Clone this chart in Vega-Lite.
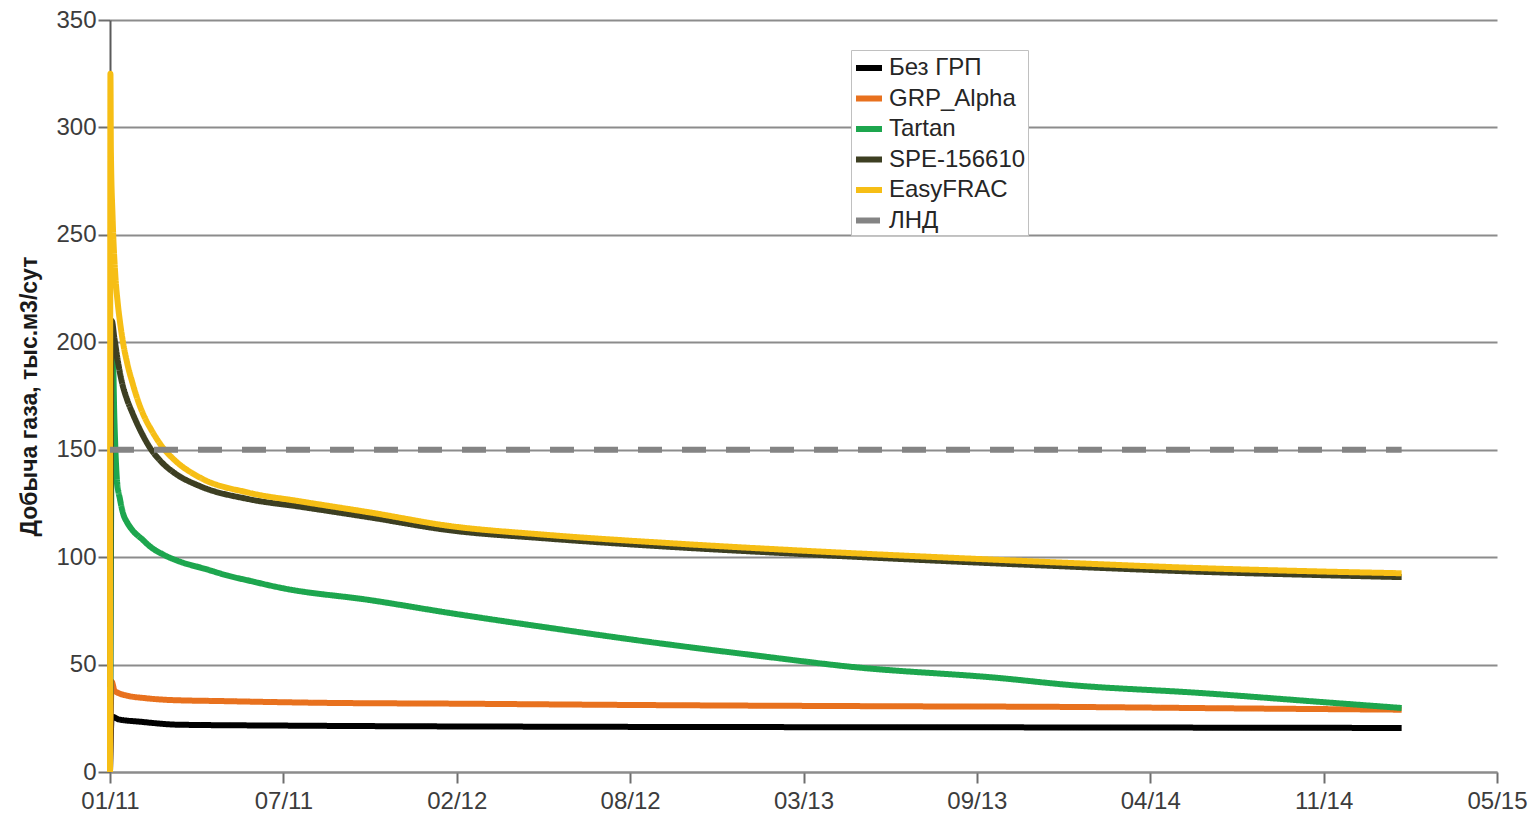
{
  "$schema": "https://vega.github.io/schema/vega-lite/v6.json",
  "width": 1387,
  "height": 752,
  "autosize": {"type": "none"},
  "padding": {"left": 110, "top": 20, "right": 40, "bottom": 44},
  "background": "white",
  "config": {
    "view": {"stroke": null},
    "font": "Liberation Sans"
  },
  "data": {
    "values": [
      {"series": "Без ГРП", "date": "2011-01-01", "value": 0},
      {"series": "Без ГРП", "date": "2011-01-03", "value": 25.8},
      {"series": "Без ГРП", "date": "2011-01-11", "value": 24.5},
      {"series": "Без ГРП", "date": "2011-02-05", "value": 23.4},
      {"series": "Без ГРП", "date": "2011-03-22", "value": 22},
      {"series": "Без ГРП", "date": "2011-07-20", "value": 21.6},
      {"series": "Без ГРП", "date": "2012-08-23", "value": 21},
      {"series": "Без ГРП", "date": "2013-09-27", "value": 20.8},
      {"series": "Без ГРП", "date": "2015-01-30", "value": 20.5},

      {"series": "GRP_Alpha", "date": "2011-01-01", "value": 0},
      {"series": "GRP_Alpha", "date": "2011-01-03", "value": 42},
      {"series": "GRP_Alpha", "date": "2011-01-06", "value": 38},
      {"series": "GRP_Alpha", "date": "2011-01-11", "value": 36.7},
      {"series": "GRP_Alpha", "date": "2011-01-21", "value": 35.5},
      {"series": "GRP_Alpha", "date": "2011-02-10", "value": 34.4},
      {"series": "GRP_Alpha", "date": "2011-03-12", "value": 33.5},
      {"series": "GRP_Alpha", "date": "2011-05-11", "value": 33},
      {"series": "GRP_Alpha", "date": "2011-09-03", "value": 32.2},
      {"series": "GRP_Alpha", "date": "2012-02-05", "value": 31.8},
      {"series": "GRP_Alpha", "date": "2012-08-23", "value": 31.2},
      {"series": "GRP_Alpha", "date": "2013-06-19", "value": 30.6},
      {"series": "GRP_Alpha", "date": "2014-01-05", "value": 30.3},
      {"series": "GRP_Alpha", "date": "2014-07-24", "value": 29.6},
      {"series": "GRP_Alpha", "date": "2015-01-30", "value": 29},

      {"series": "Tartan", "date": "2011-01-01", "value": 0},
      {"series": "Tartan", "date": "2011-01-04", "value": 198},
      {"series": "Tartan", "date": "2011-01-06", "value": 165},
      {"series": "Tartan", "date": "2011-01-09", "value": 136},
      {"series": "Tartan", "date": "2011-01-12T12:00:00Z", "value": 127},
      {"series": "Tartan", "date": "2011-01-16", "value": 120.5},
      {"series": "Tartan", "date": "2011-01-21", "value": 116},
      {"series": "Tartan", "date": "2011-01-27", "value": 112.5},
      {"series": "Tartan", "date": "2011-02-08", "value": 108},
      {"series": "Tartan", "date": "2011-02-16", "value": 105},
      {"series": "Tartan", "date": "2011-03-02", "value": 101.5},
      {"series": "Tartan", "date": "2011-03-22", "value": 98},
      {"series": "Tartan", "date": "2011-04-21", "value": 94.5},
      {"series": "Tartan", "date": "2011-05-16", "value": 91.5},
      {"series": "Tartan", "date": "2011-06-11", "value": 89},
      {"series": "Tartan", "date": "2011-07-20", "value": 85.5},
      {"series": "Tartan", "date": "2011-10-28", "value": 80},
      {"series": "Tartan", "date": "2012-01-28", "value": 74},
      {"series": "Tartan", "date": "2012-05-15", "value": 67.5},
      {"series": "Tartan", "date": "2012-09-15", "value": 60.5},
      {"series": "Tartan", "date": "2013-01-20", "value": 54},
      {"series": "Tartan", "date": "2013-05-04", "value": 49},
      {"series": "Tartan", "date": "2013-10-24", "value": 43.7},
      {"series": "Tartan", "date": "2014-01-12", "value": 40.5},
      {"series": "Tartan", "date": "2014-06-11", "value": 36.8},
      {"series": "Tartan", "date": "2014-11-01", "value": 32.5},
      {"series": "Tartan", "date": "2015-01-30", "value": 29.8},

      {"series": "SPE-156610", "date": "2011-01-01", "value": 0},
      {"series": "SPE-156610", "date": "2011-01-03", "value": 210},
      {"series": "SPE-156610", "date": "2011-01-06", "value": 202},
      {"series": "SPE-156610", "date": "2011-01-11", "value": 189},
      {"series": "SPE-156610", "date": "2011-01-15", "value": 181},
      {"series": "SPE-156610", "date": "2011-01-21", "value": 173},
      {"series": "SPE-156610", "date": "2011-01-27", "value": 167},
      {"series": "SPE-156610", "date": "2011-02-05", "value": 159},
      {"series": "SPE-156610", "date": "2011-02-16", "value": 151},
      {"series": "SPE-156610", "date": "2011-03-02", "value": 144},
      {"series": "SPE-156610", "date": "2011-03-17", "value": 139},
      {"series": "SPE-156610", "date": "2011-04-15", "value": 133},
      {"series": "SPE-156610", "date": "2011-06-10", "value": 127},
      {"series": "SPE-156610", "date": "2011-08-08", "value": 123.5},
      {"series": "SPE-156610", "date": "2011-10-28", "value": 118.5},
      {"series": "SPE-156610", "date": "2012-01-28", "value": 112.5},
      {"series": "SPE-156610", "date": "2012-05-15", "value": 108.8},
      {"series": "SPE-156610", "date": "2012-10-08", "value": 104.8},
      {"series": "SPE-156610", "date": "2013-03-11", "value": 101.4},
      {"series": "SPE-156610", "date": "2013-10-24", "value": 97},
      {"series": "SPE-156610", "date": "2014-01-12", "value": 95.6},
      {"series": "SPE-156610", "date": "2014-06-04", "value": 93.3},
      {"series": "SPE-156610", "date": "2014-11-01", "value": 91.6},
      {"series": "SPE-156610", "date": "2015-01-30", "value": 90.7},

      {"series": "EasyFRAC", "date": "2011-01-01", "value": 0},
      {"series": "EasyFRAC", "date": "2011-01-01T12:00:00Z", "value": 325},
      {"series": "EasyFRAC", "date": "2011-01-02", "value": 290},
      {"series": "EasyFRAC", "date": "2011-01-04", "value": 258},
      {"series": "EasyFRAC", "date": "2011-01-07", "value": 232},
      {"series": "EasyFRAC", "date": "2011-01-10", "value": 218},
      {"series": "EasyFRAC", "date": "2011-01-13", "value": 208},
      {"series": "EasyFRAC", "date": "2011-01-16", "value": 200},
      {"series": "EasyFRAC", "date": "2011-01-21", "value": 190},
      {"series": "EasyFRAC", "date": "2011-01-27", "value": 181},
      {"series": "EasyFRAC", "date": "2011-02-03", "value": 172},
      {"series": "EasyFRAC", "date": "2011-02-10", "value": 165},
      {"series": "EasyFRAC", "date": "2011-02-18", "value": 159},
      {"series": "EasyFRAC", "date": "2011-03-02", "value": 151.5},
      {"series": "EasyFRAC", "date": "2011-03-17", "value": 145},
      {"series": "EasyFRAC", "date": "2011-04-15", "value": 137},
      {"series": "EasyFRAC", "date": "2011-06-10", "value": 130},
      {"series": "EasyFRAC", "date": "2011-08-08", "value": 126},
      {"series": "EasyFRAC", "date": "2011-10-28", "value": 120.8},
      {"series": "EasyFRAC", "date": "2012-01-28", "value": 114.5},
      {"series": "EasyFRAC", "date": "2012-05-15", "value": 110.5},
      {"series": "EasyFRAC", "date": "2012-10-08", "value": 106.5},
      {"series": "EasyFRAC", "date": "2013-03-11", "value": 103},
      {"series": "EasyFRAC", "date": "2013-10-24", "value": 98.7},
      {"series": "EasyFRAC", "date": "2014-01-12", "value": 97.3},
      {"series": "EasyFRAC", "date": "2014-06-04", "value": 95},
      {"series": "EasyFRAC", "date": "2014-11-01", "value": 93.3},
      {"series": "EasyFRAC", "date": "2015-01-30", "value": 92.5},

      {"series": "ЛНД", "date": "2011-01-01", "value": 150},
      {"series": "ЛНД", "date": "2015-01-30", "value": 150}
    ]
  },
  "mark": {"type": "line", "strokeWidth": 6, "strokeJoin": "round", "strokeCap": "butt", "interpolate": "monotone", "clip": false},
  "encoding": {
    "x": {
      "field": "date",
      "type": "temporal",
      "scale": {
        "type": "utc",
        "domain": [
          {"year": 2011, "month": 1, "date": 1, "utc": true},
          {"year": 2015, "month": 5, "date": 20, "utc": true}
        ],
        "nice": false
      },
      "axis": {
        "title": null,
        "values": [
          {"year": 2011, "month": 1, "date": 1, "utc": true},
          {"year": 2011, "month": 7, "date": 20, "utc": true},
          {"year": 2012, "month": 2, "date": 5, "utc": true},
          {"year": 2012, "month": 8, "date": 23, "utc": true},
          {"year": 2013, "month": 3, "date": 11, "utc": true},
          {"year": 2013, "month": 9, "date": 27, "utc": true},
          {"year": 2014, "month": 4, "date": 15, "utc": true},
          {"year": 2014, "month": 11, "date": 1, "utc": true},
          {"year": 2015, "month": 5, "date": 20, "utc": true}
        ],
        "labelExpr": "utcFormat(datum.value, '%m/%y')",
        "grid": false,
        "domainColor": "#8c8c8c",
        "domainWidth": 2,
        "tickColor": "#6e6e6e",
        "tickWidth": 2,
        "tickSize": 11,
        "labelFontSize": 24,
        "labelColor": "#3c3c3c",
        "labelPadding": 6,
        "labelFlush": false,
        "labelOverlap": false
      }
    },
    "y": {
      "field": "value",
      "type": "quantitative",
      "scale": {"domain": [0, 350], "nice": false},
      "axis": {
        "title": "Добыча газа, тыс.м3/сут",
        "titleFontSize": 23,
        "titleFontWeight": "bold",
        "titleColor": "#1a1a1a",
        "titlePadding": 14,
        "values": [0, 50, 100, 150, 200, 250, 300, 350],
        "grid": true,
        "gridColor": "#8c8c8c",
        "gridWidth": 2,
        "domainColor": "#5a5a5a",
        "domainWidth": 2,
        "tickColor": "#6e6e6e",
        "tickWidth": 2,
        "tickSize": 12,
        "labelFontSize": 24,
        "labelColor": "#3c3c3c",
        "labelPadding": 2,
        "labelFlush": false
      }
    },
    "color": {
      "field": "series",
      "type": "nominal",
      "sort": null,
      "scale": {
        "domain": ["Без ГРП", "GRP_Alpha", "Tartan", "SPE-156610", "EasyFRAC", "ЛНД"],
        "range": ["#000000", "#E8711E", "#1DA64E", "#3D3F22", "#F6BE15", "#848484"]
      },
      "legend": {
        "title": null,
        "orient": "none",
        "legendX": 741,
        "legendY": 30,
        "padding": 2,
        "strokeColor": "#c0c0c0",
        "fillColor": "white",
        "symbolType": "stroke",
        "symbolSize": 676,
        "symbolStrokeWidth": 6,
        "symbolDash": [],
        "labelFontSize": 24,
        "labelColor": "#262626",
        "labelOffset": 4,
        "rowPadding": 2.5,
        "labelLimit": 400
      }
    },
    "strokeDash": {
      "field": "series",
      "type": "nominal",
      "scale": {
        "domain": ["Без ГРП", "GRP_Alpha", "Tartan", "SPE-156610", "EasyFRAC", "ЛНД"],
        "range": [[1, 0], [1, 0], [1, 0], [1, 0], [1, 0], [24, 20]]
      },
      "legend": null
    }
  }
}
